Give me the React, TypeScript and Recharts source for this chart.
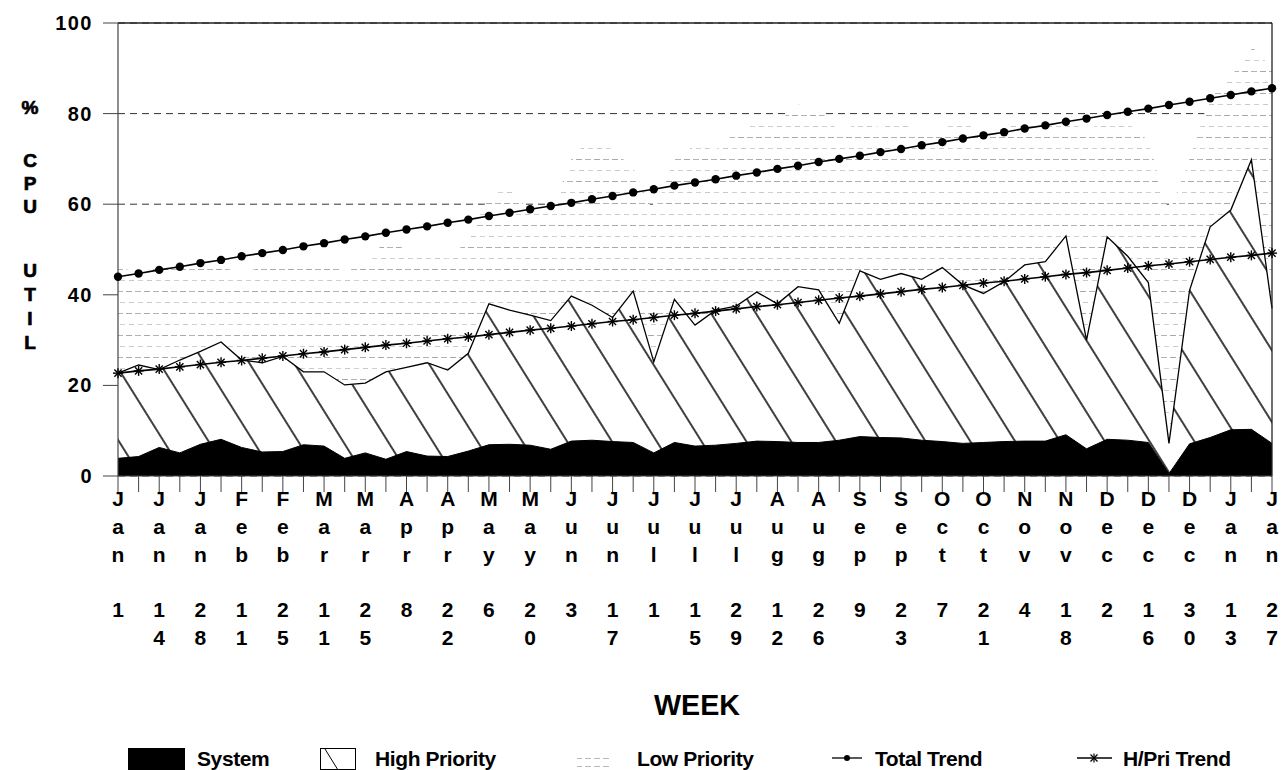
import React from 'react';
import { ComposedChart, Area, Line, XAxis, YAxis, CartesianGrid, ReferenceLine } from 'recharts';

const weeks = [
  'Jan 1', 'Jan 7', 'Jan 14', 'Jan 21', 'Jan 28', 'Feb 4', 'Feb 11', 'Feb 18', 'Feb 25',
  'Mar 4', 'Mar 11', 'Mar 18', 'Mar 25', 'Apr 1', 'Apr 8', 'Apr 15', 'Apr 22', 'Apr 29',
  'May 6', 'May 13', 'May 20', 'May 27', 'Jun 3', 'Jun 10', 'Jun 17', 'Jun 24',
  'Jul 1', 'Jul 8', 'Jul 15', 'Jul 22', 'Jul 29', 'Aug 5', 'Aug 12', 'Aug 19', 'Aug 26',
  'Sep 2', 'Sep 9', 'Sep 16', 'Sep 23', 'Sep 30', 'Oct 7', 'Oct 14', 'Oct 21', 'Oct 28',
  'Nov 4', 'Nov 11', 'Nov 18', 'Nov 25', 'Dec 2', 'Dec 9', 'Dec 16', 'Dec 23', 'Dec 30',
  'Jan 6', 'Jan 13', 'Jan 20', 'Jan 27',
];

// System utilisation (black layer)
const systemUtil = [
  3.9, 4.3, 6.3, 5.1, 7.0, 8.1, 6.3, 5.3, 5.4, 6.9, 6.6, 3.9, 5.1, 3.7, 5.4, 4.4, 4.3, 5.5,
  6.9, 7.0, 6.8, 5.9, 7.7, 7.9, 7.6, 7.4, 5.1, 7.4, 6.6, 6.8, 7.2, 7.7, 7.6, 7.4, 7.4, 7.9,
  8.7, 8.5, 8.4, 7.9, 7.6, 7.2, 7.4, 7.6, 7.7, 7.7, 9.1, 6.0, 8.1, 7.9, 7.4, 0.5, 7.1, 8.5,
  10.2, 10.3, 7.2,
];

// Top of the high priority layer (system + high priority)
const highPriorityTop = [
  22.7, 24.5, 23.5, 25.6, 27.5, 29.6, 25.6, 25.0, 26.4, 23.0, 23.0, 20.1, 20.5, 23.0, 24.0,
  25.0, 23.4, 27.1, 38.0, 36.6, 35.5, 34.3, 39.7, 37.7, 35.0, 40.8, 25.2, 39.0, 33.3, 36.6,
  37.5, 40.6, 38.0, 41.8, 41.1, 33.7, 45.3, 43.4, 44.7, 43.4, 46.0, 42.2, 40.3, 42.9, 46.6,
  47.3, 53.0, 30.0, 52.8, 48.5, 42.7, 7.2, 41.0, 55.0, 58.7, 69.8, 37.0,
];

// Top of the low priority layer (total utilisation)
const lowPriorityTop = [
  46, 45, 46, 47, 46, 46, 45, 46, 47, 46, 48, 45, 47, 52, 50, 49, 48, 52,
  62, 64, 58, 58, 70, 75, 72, 68, 58, 70, 73, 72, 76, 78, 78, 82, 81, 76,
  78, 77, 78, 76, 77, 78, 76, 77, 78, 77, 79, 76, 79, 78, 74, 58, 70, 84,
  88, 95, 90,
];

const totalTrend = [
  44.0, 44.7, 45.5, 46.2, 47.0, 47.7, 48.5, 49.2, 49.9, 50.7, 51.4, 52.2, 52.9, 53.7, 54.4,
  55.1, 55.9, 56.6, 57.4, 58.1, 58.9, 59.6, 60.3, 61.1, 61.8, 62.6, 63.3, 64.1, 64.8, 65.5,
  66.3, 67.0, 67.8, 68.5, 69.3, 70.0, 70.7, 71.5, 72.2, 73.0, 73.7, 74.5, 75.2, 75.9, 76.7,
  77.4, 78.2, 78.9, 79.7, 80.4, 81.1, 81.9, 82.6, 83.4, 84.1, 84.9, 85.6,
];

const highTrend = [
  22.7, 23.2, 23.6, 24.1, 24.6, 25.1, 25.5, 26.0, 26.5, 27.0, 27.4, 27.9, 28.4, 28.9, 29.3,
  29.8, 30.3, 30.7, 31.2, 31.7, 32.2, 32.6, 33.1, 33.6, 34.1, 34.5, 35.0, 35.5, 35.9, 36.4,
  36.9, 37.4, 37.8, 38.3, 38.8, 39.3, 39.7, 40.2, 40.7, 41.2, 41.6, 42.1, 42.6, 43.0, 43.5,
  44.0, 44.5, 44.9, 45.4, 45.9, 46.4, 46.8, 47.3, 47.8, 48.3, 48.7, 49.2,
];

const yTicks = [0, 20, 40, 60, 80, 100];
const yLabelLetters = ['%', 'C', 'P', 'U', 'U', 'T', 'I', 'L'];
const yLabelRows = [107, 160, 183, 206, 270, 294, 318, 342];
const xTitle = 'WEEK';
const legendNames = ['System', 'High Priority', 'Low Priority', 'Total Trend', 'H/Pri Trend'];

const data = weeks.map((w, i) => ({
  week: w,
  system: systemUtil[i],
  high: highPriorityTop[i],
  low: lowPriorityTop[i],
  totalTrend: totalTrend[i],
  highTrend: highTrend[i],
}));

const FONT = '"Liberation Sans", Arial, Helvetica, sans-serif';

const XTick = (props: any) => {
  const { x, payload } = props;
  const idx = weeks.indexOf(payload.value);
  if (idx % 2 !== 0) return <g />;
  const [mon, day] = String(payload.value).split(' ');
  const rows = [mon[0], mon[1], mon[2], '', day[0] || '', day[1] || ''];
  const offs = [22, 50, 78, 106, 133, 161];
  return (
    <text x={x} y={476} textAnchor="middle" fontFamily={FONT} fontWeight="bold" fontSize={21} fill="#000">
      {rows.map((ch, k) =>
        ch ? (
          <tspan key={k} x={x} y={476 + offs[k]} dominantBaseline="central">
            {ch}
          </tspan>
        ) : null
      )}
    </text>
  );
};

const YTick = (props: any) => {
  const { x, y, payload } = props;
  return (
    <text x={x - 8} y={y} textAnchor="end" dominantBaseline="central" fontFamily={FONT}
      fontWeight="bold" fontSize={20} letterSpacing={1.5} fill="#000">
      {payload.value}
    </text>
  );
};

const YLabel = () => (
  <text x={30} y={yLabelRows[0]} textAnchor="middle" fontFamily={FONT} fontWeight="bold" fontSize={19}
    fill="#000" stroke="#000" strokeWidth={0.7}>
    {yLabelLetters.map((ch, k) => (
      <tspan key={k} x={30} y={yLabelRows[k] + 7}>
        {ch}
      </tspan>
    ))}
  </text>
);

const XLabel = () => (
  <text x={697} y={705} textAnchor="middle" dominantBaseline="central" fontFamily={FONT}
    fontWeight="bold" fontSize={29} textLength={86} lengthAdjust="spacingAndGlyphs" fill="#000">
    {xTitle}
  </text>
);

const TotalDot = (props: any) => {
  const { cx, cy, index } = props;
  return <circle key={`td-${index}`} cx={cx} cy={cy} r={4.2} fill="#000" stroke="none" />;
};

const StarDot = (props: any) => {
  const { cx, cy, index } = props;
  const r = 5;
  const d = r * 0.72;
  return (
    <g key={`hd-${index}`} stroke="#000" strokeWidth={1.4}>
      <line x1={cx} y1={cy - r} x2={cx} y2={cy + r} />
      <line x1={cx - d} y1={cy - d} x2={cx + d} y2={cy + d} />
      <line x1={cx + d} y1={cy - d} x2={cx - d} y2={cy + d} />
      <line x1={cx - r} y1={cy} x2={cx + r} y2={cy} />
    </g>
  );
};

const legendText = { fontFamily: FONT, fontWeight: 'bold' as const, fontSize: 21, letterSpacing: -0.4 };

const Legend = () => (
  <svg width={1281} height={30} style={{ position: 'absolute', left: 0, top: 740 }}>
    <defs>
      <pattern id="lowPatLegend" patternUnits="userSpaceOnUse" width="9" height="8">
        <rect x="0" y="2" width="6" height="1" fill="#b8b8b8" />
      </pattern>
    </defs>
    <rect x={128} y={8} width={57} height={22} fill="#000" />
    <text x={197} y={26} {...legendText}>{legendNames[0]}</text>

    <rect x={320.5} y={8.5} width={35} height={21} fill="#fff" stroke="#000" strokeWidth={1} />
    <line x1={325} y1={9} x2={338} y2={30} stroke="#000" strokeWidth={1} />
    <text x={375} y={26} {...legendText}>{legendNames[1]}</text>

    <rect x={577} y={13} width={35} height={16} fill="url(#lowPatLegend)" />
    <text x={637} y={26} {...legendText}>{legendNames[2]}</text>

    <line x1={832} y1={18} x2={862} y2={18} stroke="#000" strokeWidth={1.3} />
    <circle cx={847} cy={18} r={3} fill="#000" />
    <text x={875} y={26} {...legendText}>{legendNames[3]}</text>

    <line x1={1077} y1={18} x2={1112} y2={18} stroke="#000" strokeWidth={1.3} />
    <g stroke="#000" strokeWidth={1.2}>
      <line x1={1094} y1={13.5} x2={1094} y2={22.5} />
      <line x1={1090.5} y1={14.5} x2={1097.5} y2={21.5} />
      <line x1={1097.5} y1={14.5} x2={1090.5} y2={21.5} />
    </g>
    <text x={1123} y={26} {...legendText}>{legendNames[4]}</text>
  </svg>
);

export default function App() {
  return (
    <div style={{ position: 'absolute', left: 0, top: 0, width: 1281, height: 770, background: '#fff', fontFamily: FONT }}>
      <ComposedChart width={1281} height={770} data={data}
        margin={{ top: 23, right: 9, left: 0, bottom: 114 }}>
        <defs>
          <pattern id="hatch" patternUnits="userSpaceOnUse" width="38" height="38" patternTransform="rotate(-32)">
            <rect width="38" height="38" fill="#fff" />
            <line x1="19" y1="0" x2="19" y2="38" stroke="#000" strokeWidth="1.5" />
          </pattern>
          <pattern id="lowPat" patternUnits="userSpaceOnUse" width="18" height="22">
            <rect width="18" height="22" fill="#fff" />
            <rect x="0" y="5" width="6" height="1" fill="#a8a8a8" />
            <rect x="9" y="5" width="6" height="1" fill="#b4b4b4" />
            <rect x="3" y="16" width="5" height="1" fill="#c8c8c8" />
            <rect x="12" y="16" width="5" height="1" fill="#d0d0d0" />
          </pattern>
        </defs>
        <CartesianGrid vertical={false} stroke="#333" strokeDasharray="7 5" />
        <XAxis dataKey="week" scale="point" interval={0} tickSize={16} height={180}
          axisLine={{ stroke: '#444', strokeWidth: 1.2 }} tickLine={{ stroke: '#444', strokeWidth: 1 }}
          tick={<XTick />} padding={{ left: 0, right: 0 }} label={<XLabel />} />
        <YAxis domain={[0, 100]} ticks={yTicks} interval={0} tickSize={15} width={118}
          axisLine={{ stroke: '#444', strokeWidth: 1.2 }} tickLine={{ stroke: '#444', strokeWidth: 1 }}
          tick={<YTick />} label={<YLabel />} />
        <Area dataKey="low" type="linear" fill="url(#lowPat)" fillOpacity={1} stroke="none" isAnimationActive={false} />
        <Area dataKey="high" type="linear" fill="url(#hatch)" fillOpacity={1} stroke="#000" strokeWidth={1.3} isAnimationActive={false} />
        <Area dataKey="system" type="linear" fill="#000" fillOpacity={1} stroke="#000" strokeWidth={1} isAnimationActive={false} />
        <ReferenceLine y={100} stroke="#222" strokeWidth={1.3} />
        <ReferenceLine x="Jan 27" stroke="#222" strokeWidth={1.3} />
        <Line dataKey="totalTrend" type="linear" stroke="#000" strokeWidth={1.6} dot={<TotalDot />} isAnimationActive={false} />
        <Line dataKey="highTrend" type="linear" stroke="#000" strokeWidth={1.6} dot={<StarDot />} isAnimationActive={false} />
      </ComposedChart>
      <Legend />
    </div>
  );
}
